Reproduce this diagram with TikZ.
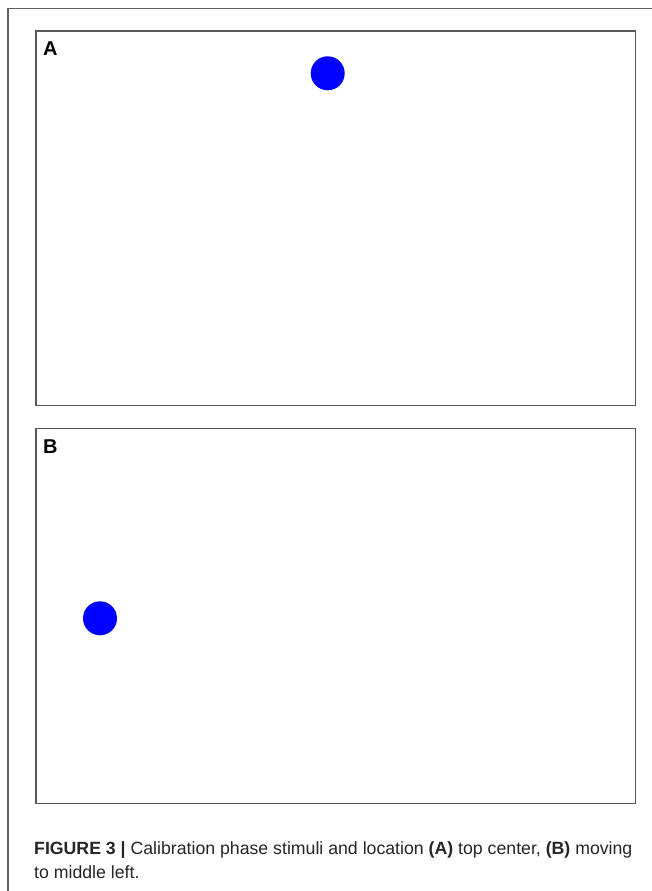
\documentclass[tikz,border=0pt]{standalone}
\usepackage{fontspec}
\setmainfont{Liberation Sans}
\begin{document}
\begin{tikzpicture}[x=1pt,y=-1pt,
  frameline/.style={draw=black!62,line width=1.4pt},
  panel/.style={draw=black!65,line width=1.3pt},
  stim/.style={circle,fill=blue,inner sep=0pt,minimum size=34pt},
  plabel/.style={anchor=base west,inner sep=0pt,font=\fontsize{20}{23}\selectfont\bfseries},
  captxt/.style={anchor=base west,inner sep=0pt,font=\fontsize{17.7}{21}\selectfont,text=black!85}]
\useasboundingbox (0,0) rectangle (652,891);
\fill[white] (0,0) rectangle (652,891);
% outer frame (top and left)
\coordinate (tl) at (8,8.5);
\coordinate (tr) at (652,8.5);
\coordinate (bl) at (8,891);
\draw[frameline] (tr) -- (tl) -- (bl);
% panels
\coordinate (pa1) at (36,31);
\coordinate (pa2) at (635.7,405.7);
\coordinate (pb1) at (36,428.3);
\coordinate (pb2) at (635.7,803.3);
\draw[panel] (pa1) rectangle (pa2);
\draw[panel] (pb1) rectangle (pb2);
\node[plabel] (la) at (43,56) {A};
\node[plabel] (lb) at (43,453) {B};
\node[stim] (ca) at (327.7,73.3) {};
\node[stim] (cb) at (100,618.3) {};
% caption
\node[captxt] (cap1) at (34,854) {\textbf{FIGURE 3 |} Calibration phase stimuli and location \textbf{(A)} top center, \textbf{(B)} moving};
\node[captxt] (cap2) at (34,878) {to middle left.};
\end{tikzpicture}
\end{document}
